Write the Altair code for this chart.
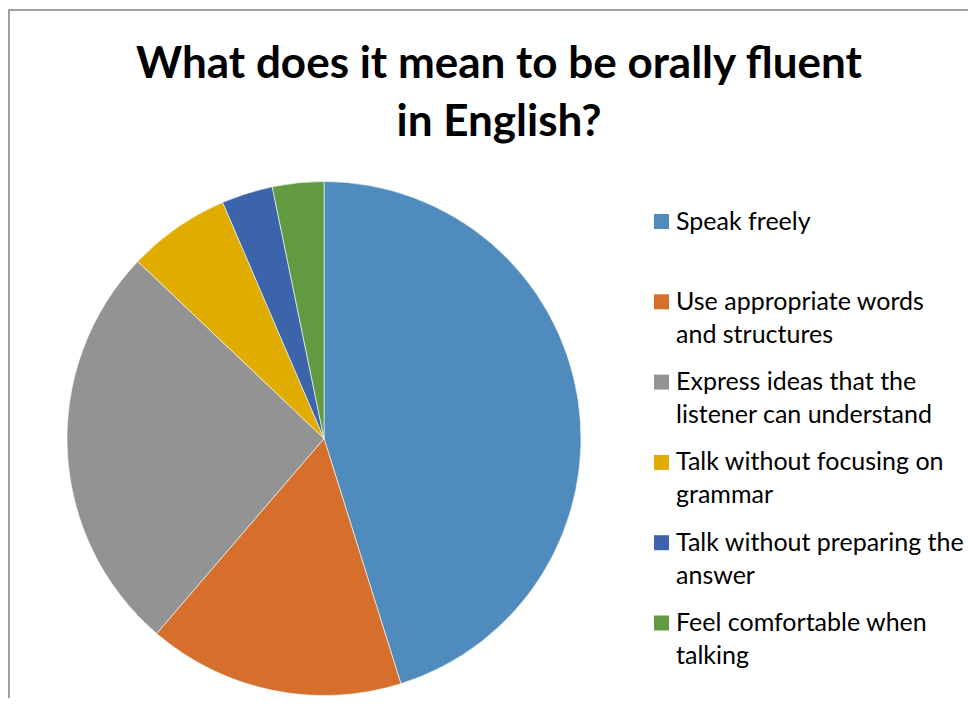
import altair as alt
import pandas as pd

categories = [
    "Speak freely",
    "Use appropriate words and structures",
    "Express ideas that the listener can understand",
    "Talk without focusing on grammar",
    "Talk without preparing the answer",
    "Feel comfortable when talking",
]
counts = [14, 5, 8, 2, 1, 1]
legend_labels = [
    "Speak freely",
    "Use appropriate words|and structures",
    "Express ideas that the|listener can understand",
    "Talk without focusing on|grammar",
    "Talk without preparing the|answer",
    "Feel comfortable when|talking",
]
colors = ["#4F8BBD", "#D56F2B", "#939393", "#E0AC00", "#3C64AA", "#629A41"]
title_lines = ["What does it mean to be orally fluent", "in English?"]

# view origin sits at page (8, 8); keep the chart inside the window so no scrollbars appear
OX, OY = 8, 8
W = 960
H = 690

df = pd.DataFrame({
    "category": categories,
    "count": counts,
    "order": list(range(len(categories))),
    "label": legend_labels,
})

color = alt.Color("category:N", scale=alt.Scale(domain=categories, range=colors), legend=None)

pie = alt.Chart(df).mark_arc(outerRadius=257, stroke="white", strokeWidth=0.6).encode(
    theta=alt.Theta("count:Q", stack=True),
    color=color,
    order=alt.Order("order:Q"),
    x=alt.value(324 - OX),
    y=alt.value(438.5 - OY),
)

yscale = alt.Scale(type="point", domain=categories, range=[221.5 - OY, 623 - OY], padding=0)

squares = alt.Chart(df).mark_square(size=225, opacity=1).encode(
    x=alt.value(661.5 - OX),
    y=alt.Y("category:N", scale=yscale, axis=None),
    color=color,
)

labels = alt.Chart(df).mark_text(
    align="left", baseline="alphabetic", dy=8, lineBreak="|", lineHeight=33,
    font="Lato", fontSize=25, color="#000000",
).encode(
    x=alt.value(676 - OX),
    y=alt.Y("category:N", scale=yscale, axis=None),
    text="label:N",
)

title_df = pd.DataFrame({"t": ["|".join(title_lines)]})
title = alt.Chart(title_df).mark_text(
    align="center", baseline="alphabetic", lineBreak="|", lineHeight=58,
    font="Lato", fontWeight="bold", fontSize=44, color="#000000",
).encode(
    x=alt.value(499 - OX),
    y=alt.value(78 - OY),
    text="t:N",
)

frame_src = pd.DataFrame({"a": [0]})
top_edge = alt.Chart(frame_src).mark_rule(stroke="#A0A0A0", strokeWidth=2).encode(
    x=alt.value(0), x2=alt.value(W), y=alt.value(10 - OY)
)
left_edge = alt.Chart(frame_src).mark_rule(stroke="#A0A0A0", strokeWidth=2).encode(
    x=alt.value(1), y=alt.value(9 - OY), y2=alt.value(H)
)

chart = alt.layer(top_edge, left_edge, pie, squares, labels, title).properties(
    width=W,
    height=H,
    autosize=alt.AutoSizeParams(type="none"),
    padding=0,
).configure_view(strokeWidth=0)

chart.save("out.html", embed_options={"renderer": "svg", "actions": False})
